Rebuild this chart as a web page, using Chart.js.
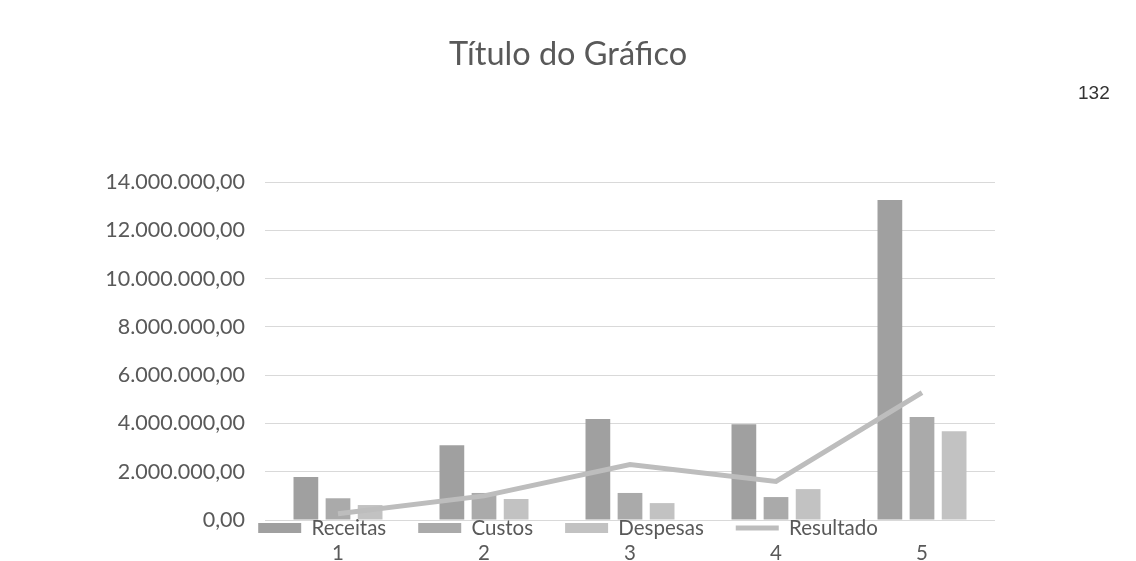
<!DOCTYPE html>
<html>
<head>
<meta charset="utf-8">
<script src="https://cdn.jsdelivr.net/npm/chart.js@4.4.1/dist/chart.umd.min.js"></script>
<style>
  html, body { margin: 0; padding: 0; background: #ffffff; }
  #wrap { position: relative; width: 1136px; height: 561px; }
  #pg { position: absolute; left: 1078px; top: 82px; font-family: "Liberation Sans", Arial, sans-serif; font-size: 19px; color: #333; }
</style>
</head>
<body>
<div id="wrap">
  <canvas id="c" width="1136" height="561"></canvas>
  <div id="pg">132</div>
</div>
<script>
const categories = ['1', '2', '3', '4', '5'];
const receitas  = [1780000, 3100000, 4180000, 3970000, 13250000];
const custos    = [900000, 1120000, 1120000, 950000, 4270000];
const despesas  = [620000, 870000, 700000, 1280000, 3680000];
const resultado = [260000, 1000000, 2300000, 1600000, 5280000];
const chartTitle = 'Título do Gráfico';

function fmtBR(v) {
  const neg = v < 0; v = Math.abs(v);
  const s = Math.round(v).toString().replace(/\B(?=(\d{3})+(?!\d))/g, '.');
  return (neg ? '-' : '') + s + ',00';
}

const FONT = 'Lato, "Open Sans", sans-serif';
const TXT = '#595959';
const LEG_FS = 20.5;

const moveLegend = {
  id: 'moveLegend',
  afterLayout(chart) {
    const lg = chart.legend;
    if (!lg) return;
    const pad = lg.options.labels.padding;
    const targetTop = chart.chartArea.bottom + 8 - pad - LEG_FS / 2;
    const dy = targetTop - lg.top;
    lg.top += dy; lg.bottom += dy;
  }
};

new Chart(document.getElementById('c'), {
  data: {
    labels: categories,
    datasets: [
      { type: 'bar', label: 'Receitas', data: receitas, backgroundColor: '#a0a0a0', pointStyle: 'rect', order: 2 },
      { type: 'bar', label: 'Custos', data: custos, backgroundColor: '#aaaaaa', pointStyle: 'rect', order: 2 },
      { type: 'bar', label: 'Despesas', data: despesas, backgroundColor: '#c2c2c2', pointStyle: 'rect', order: 2 },
      { type: 'line', label: 'Resultado', data: resultado, borderColor: '#bdbdbd', backgroundColor: '#bdbdbd',
        borderWidth: 5, pointRadius: 0, pointStyle: 'line', tension: 0, order: 1 }
    ]
  },
  options: {
    responsive: false,
    animation: false,
    datasets: { bar: { categoryPercentage: 0.66, barPercentage: 0.77 } },
    layout: { padding: 0 },
    plugins: {
      title: {
        display: true, text: chartTitle, color: TXT,
        font: { family: FONT, size: 32.5, weight: 'normal' },
        padding: { top: 35.5, bottom: 45 }
      },
      legend: {
        position: 'top',
        labels: {
          usePointStyle: true, pointStyleWidth: 43, boxHeight: 10, boxWidth: 43,
          padding: 32, color: TXT,
          font: { family: FONT, size: LEG_FS },
          sort: (a, b) => a.datasetIndex - b.datasetIndex
        }
      },
      tooltip: { enabled: false }
    },
    scales: {
      x: {
        grid: { display: false }, border: { display: false },
        ticks: { color: TXT, padding: 13, font: { family: FONT, size: LEG_FS } },
        afterFit(s) { s.height = 41; }
      },
      y: {
        min: 0, max: 14000000,
        grid: { color: '#d9d9d9', lineWidth: 1, drawTicks: false },
        border: { display: false },
        ticks: { stepSize: 2000000, color: TXT, padding: 20, font: { family: FONT, size: 21.5 },
                 callback: (v) => fmtBR(v) },
        afterFit(s) { s.width = 265; }
      },
      yRight: {
        position: 'right', display: true,
        grid: { display: false, drawTicks: false }, border: { display: false },
        ticks: { display: false },
        afterFit(s) { s.width = 141; }
      }
    }
  },
  plugins: [moveLegend]
});
</script>
</body>
</html>
